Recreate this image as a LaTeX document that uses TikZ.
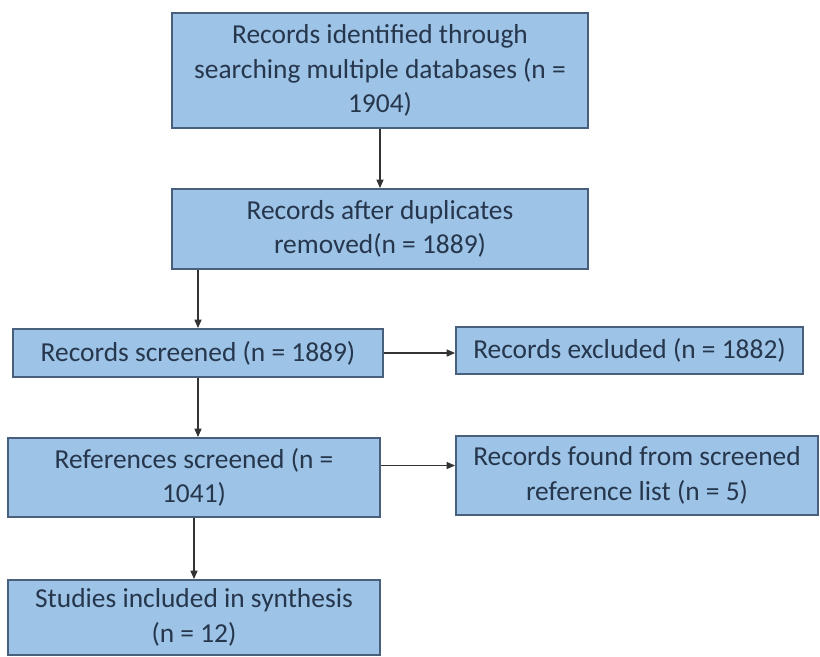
\documentclass[tikz,border=0pt]{standalone}
\usepackage{fontspec}
\setmainfont{Carlito}
\usetikzlibrary{arrows.meta}
\definecolor{boxfill}{RGB}{157,195,230}
\definecolor{boxline}{RGB}{72,96,124}
\definecolor{boxtext}{RGB}{38,54,76}

\begin{document}
\begin{tikzpicture}[x=0.025cm, y=-0.025cm, >={Triangle[length=6pt,width=5pt]},
    stage/.style={draw=boxline, line width=1.3pt, fill=boxfill, text=boxtext,
        align=center, inner sep=0pt, font=\fontsize{19.5}{24.5}\selectfont},
    flow/.style={->, line width=0.9pt, draw=black!80}]
    \fill [white] (0,0) rectangle (820,656);
    \useasboundingbox (0,0) rectangle (820,656);

    \node [stage, minimum width=10.4cm, minimum height=2.875cm] (identified) at (380,70.5)
        {Records identified through\\searching multiple databases (n =\\1904)};
    \node [stage, minimum width=10.4cm, minimum height=2cm] (dedup) at (380,229)
        {Records after duplicates\\removed(n = 1889)};
    \node [stage, minimum width=9.25cm, minimum height=1.2cm] (screened) at (198,353)
        {Records screened (n = 1889)};
    \node [stage, minimum width=8.675cm, minimum height=1.175cm] (excluded) at (629.5,350.5)
        {Records excluded (n = 1882)};
    \node [stage, minimum width=9.3cm, minimum height=1.975cm] (refs) at (194,477.5)
        {References screened (n =\\1041)};
    \node [stage, minimum width=9.05cm, minimum height=1.975cm] (found) at (637,475.5)
        {Records found from screened\\reference list (n = 5)};
    \node [stage, minimum width=9.3cm, minimum height=1.875cm] (included) at (194,617.5)
        {Studies included in synthesis\\(n = 12)};

    \draw [flow] (identified) -- (dedup);
    \draw [flow] (screened.north |- dedup.south) -- (screened.north);
    \draw [flow] (screened.east) -- (screened.east -| excluded.west);
    \draw [flow] (screened.south) -- (screened.south |- refs.north);
    \draw [flow] ([yshift=0.3cm]refs.east) -- ([yshift=0.3cm]refs.east -| found.west);
    \draw [flow] (refs) -- (included);
\end{tikzpicture}
\end{document}
